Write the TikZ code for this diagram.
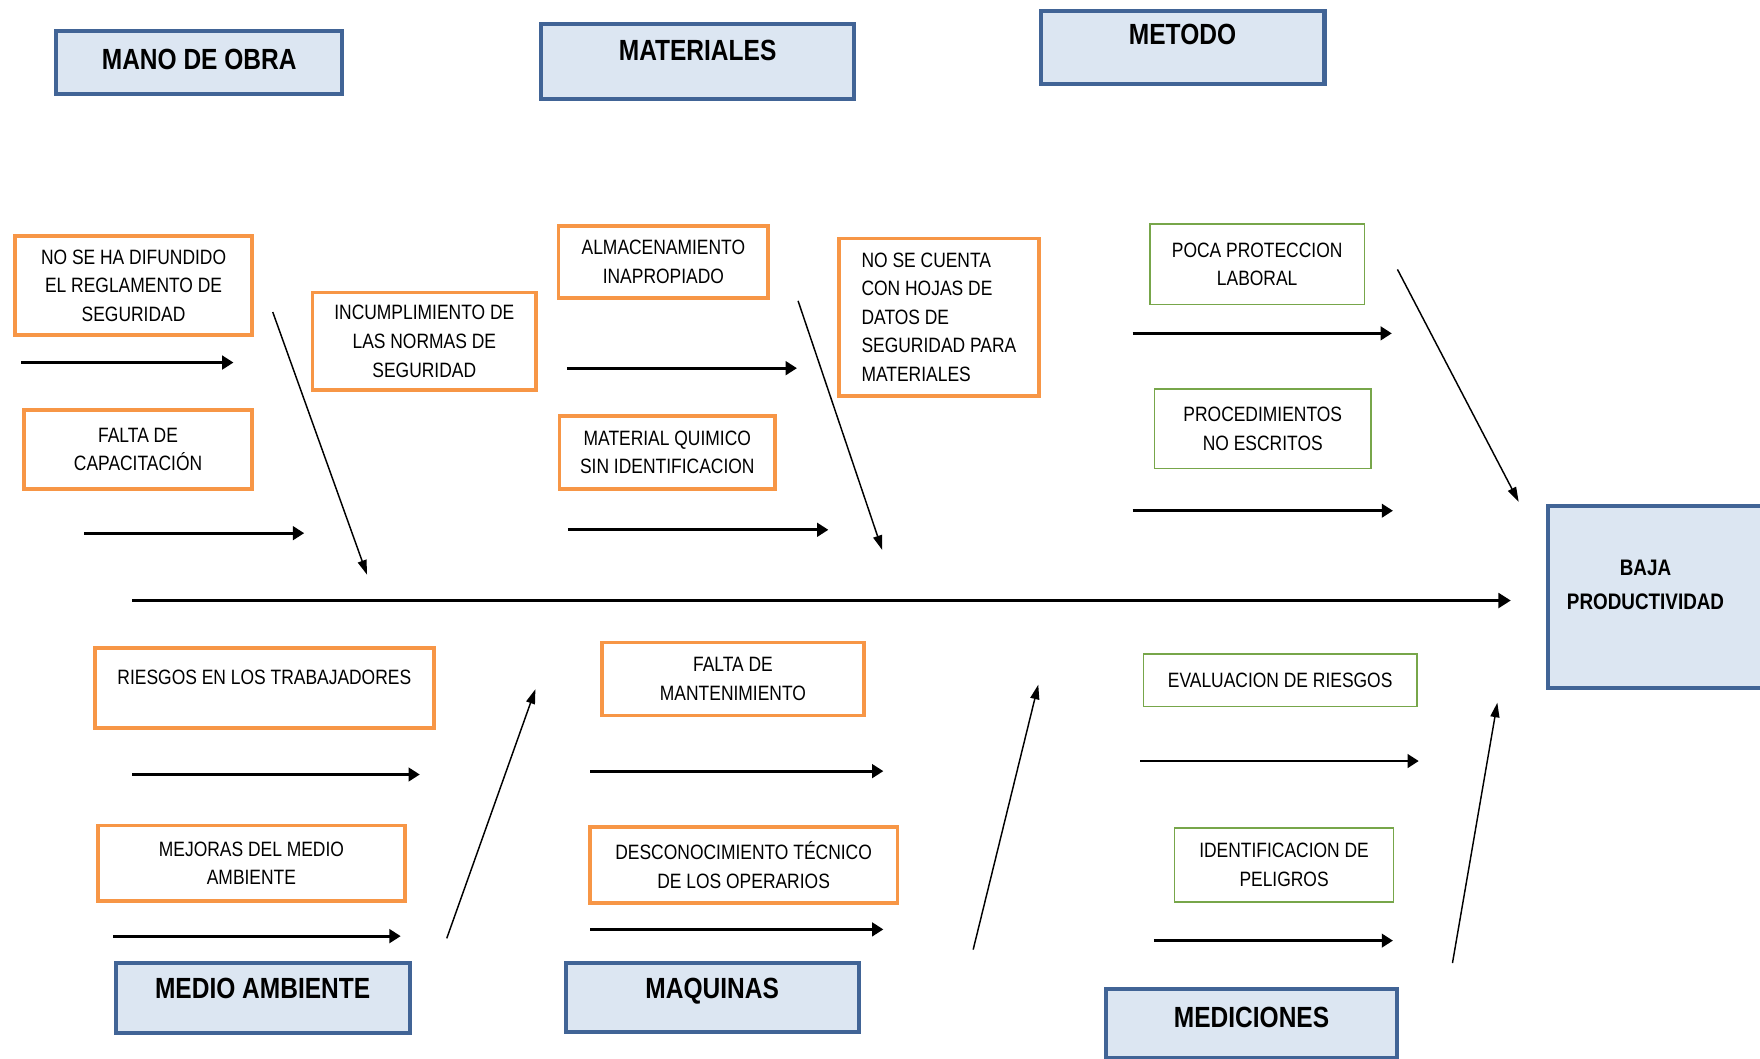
\documentclass[tikz,border=0pt]{standalone}
\usepackage{fontspec}
\setmainfont{Liberation Sans}[FakeStretch=0.84]
\usetikzlibrary{arrows.meta,calc}

\definecolor{catfill}{RGB}{220,230,242}
\definecolor{catline}{RGB}{65,100,150}
\definecolor{causeline}{RGB}{247,150,70}
\definecolor{subline}{RGB}{119,166,74}

\begin{document}
\begin{tikzpicture}[x=1pt,y=-1pt,
  cat/.style={draw=catline, fill=catfill, line width=3.6pt, inner sep=0pt},
  cattext/.style={anchor=base, inner sep=0pt, font=\fontsize{26}{30}\bfseries\selectfont},
  cause/.style={draw=causeline, line width=3.3pt, inner sep=0pt, align=center,
    font=\fontsize{18.5}{25.5}\selectfont},
  sub/.style={draw=subline, line width=1.3pt, inner sep=0pt, align=center,
    font=\fontsize{18.5}{25.5}\selectfont},
  plain/.style={anchor=base, inner sep=0pt, font=\fontsize{18.5}{25.5}\selectfont},
  bone/.style={line width=2.5pt, -{Triangle[length=10pt,width=12pt]}},
  spine/.style={line width=2.8pt, -{Triangle[length=11pt,width=13pt]}},
  rib/.style={line width=1.3pt, -{Triangle[length=13pt,width=8pt]}}]

\useasboundingbox (0,0) rectangle (1568,943);

% category headers
\node[cat, minimum width=255pt, minimum height=56pt] (mo)  at (177.5,56)  {};
\node[cat, minimum width=279pt, minimum height=67pt] (mat) at (621.5,54.5) {};
\node[cat, minimum width=253pt, minimum height=65pt] (met) at (1053.5,42.5) {};
\node[cat, minimum width=262pt, minimum height=62pt] (ma)  at (234,889)   {};
\node[cat, minimum width=261pt, minimum height=61pt] (maq) at (634.5,888.5) {};
\node[cat, minimum width=260pt, minimum height=62pt] (med) at (1115,912)  {};
\node[cat, minimum width=194pt, minimum height=162pt] (baja) at (1476,532) {};

\node[cattext] (mo-t)  at (177.5,62)  {MANO DE OBRA};
\node[cattext] (mat-t) at (621.5,53.5) {MATERIALES};
\node[cattext] (met-t) at (1053.5,40) {METODO};
\node[cattext] (ma-t)  at (234,890)   {MEDIO AMBIENTE};
\node[cattext] (maq-t) at (634.5,890) {MAQUINAS};
\node[cattext] (med-t) at (1115,915)  {MEDICIONES};
\node[anchor=base, inner sep=0pt, align=center, font=\fontsize{20}{30}\bfseries\selectfont]
  (baja-t) at (1466,543) {BAJA\\PRODUCTIVIDAD};

% causes
\node[cause, minimum width=211pt, minimum height=88pt] (c1) at (119,254.5)
  {NO SE HA DIFUNDIDO\\EL REGLAMENTO DE\\SEGURIDAD};
\node[cause, minimum width=203pt, minimum height=70pt] (c2) at (123,400.5)
  {FALTA DE\\CAPACITACIÓN};
\node[cause, minimum width=199pt, minimum height=87pt] (c3) at (378,304)
  {INCUMPLIMIENTO DE\\LAS NORMAS DE\\SEGURIDAD};
\node[cause, minimum width=187pt, minimum height=64pt] (c4) at (591,233.5)
  {ALMACENAMIENTO\\INAPROPIADO};
\node[cause, minimum width=192pt, minimum height=65pt] (c5) at (594.5,403)
  {MATERIAL QUIMICO\\SIN IDENTIFICACION};
\node[cause, minimum width=178pt, minimum height=140pt, align=left] (c6) at (836.5,282.5)
  {NO SE CUENTA\\CON HOJAS DE\\DATOS DE\\SEGURIDAD PARA\\MATERIALES};
\node[cause, minimum width=302pt, minimum height=71pt] (c7) at (235.5,613) {};
\node[plain] (c7-t) at (235.5,610) {RIESGOS EN LOS TRABAJADORES};
\node[cause, minimum width=273pt, minimum height=67pt] (c8) at (224,769)
  {MEJORAS DEL MEDIO\\AMBIENTE};
\node[cause, minimum width=233pt, minimum height=65pt] (c9) at (653,605)
  {FALTA DE\\MANTENIMIENTO};
\node[cause, minimum width=274pt, minimum height=68pt] (c10) at (662.5,770.5)
  {DESCONOCIMIENTO TÉCNICO\\DE LOS OPERARIOS};

% method and measurement causes
\node[sub, minimum width=191pt, minimum height=72pt] (s1) at (1120,235.5)
  {POCA PROTECCION\\LABORAL};
\node[sub, minimum width=193pt, minimum height=71pt] (s2) at (1125,382)
  {PROCEDIMIENTOS\\NO ESCRITOS};
\node[sub, minimum width=244pt, minimum height=47pt] (s3) at (1140.5,606)
  {EVALUACION DE RIESGOS};
\node[sub, minimum width=195pt, minimum height=66pt] (s4) at (1144,770.5)
  {IDENTIFICACION DE\\PELIGROS};

% spine
\coordinate (tail) at (118,535);
\coordinate (head) at (1346,535);
\draw[spine] (tail) -- (head);

% horizontal bones
\foreach \n/\xa/\ya/\xb in {
  1/19/323/208, 2/75/475/271, 3/505/328/710, 4/506/472/738,
  5/1009/297/1240, 6/1009/455/1241, 7/118/690/374, 8/101/834/357,
  9/526/687/787, 10/526/828/787, 11/1016/678/1264, 12/1028/838/1241} {
  \coordinate (b\n s) at (\xa,\ya);
  \coordinate (b\n e) at (\xb,\ya);
  \draw[bone] (b\n s) -- (b\n e);
}

% slanted ribs
\foreach \n/\xa/\ya/\xb/\yb in {
  1/243/278/327/512, 2/711/268/786/490, 3/1245/240/1353/447,
  4/398/836/477/614, 5/867/846/925/610, 6/1294/858/1334/626} {
  \coordinate (r\n s) at (\xa,\ya);
  \coordinate (r\n e) at (\xb,\yb);
  \draw[rib] (r\n s) -- (r\n e);
}
\end{tikzpicture}
\end{document}
